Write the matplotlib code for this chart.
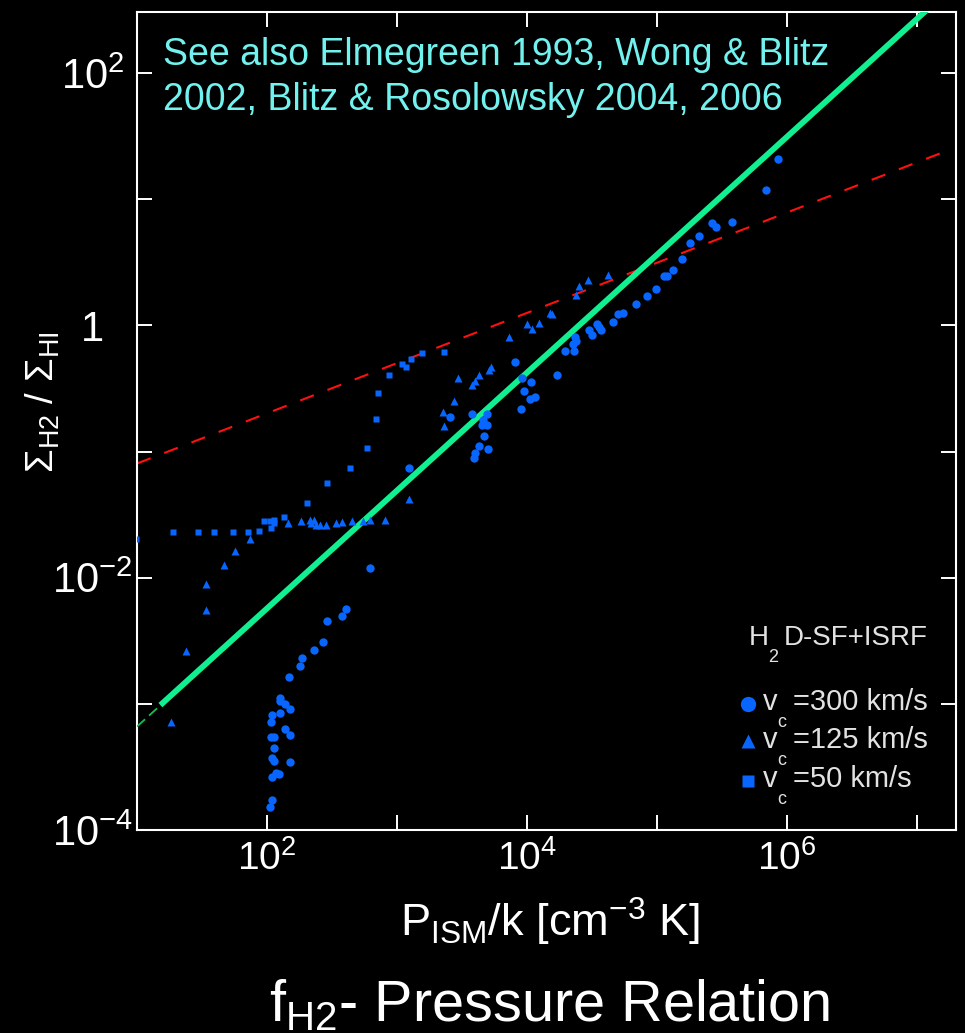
import numpy as np
import matplotlib.pyplot as plt
from matplotlib.lines import Line2D
from matplotlib.ticker import FixedLocator, FixedFormatter, NullLocator

plt.rcParams['font.family'] = ['Liberation Sans', 'DejaVu Sans']
plt.rcParams['mathtext.fontset'] = 'custom'
plt.rcParams['mathtext.rm'] = 'Liberation Sans'
plt.rcParams['mathtext.it'] = 'Liberation Sans'
plt.rcParams['mathtext.bf'] = 'Liberation Sans:bold'

# log10(P/k), log10(Sigma_H2/Sigma_HI)
circ_logP = [2.02, 2.04, 2.04, 2.07, 2.09, 2.04, 2.05, 2.18, 2.05, 2.03,
             2.05, 2.18, 2.14, 2.03, 2.04, 2.10, 2.18, 2.14, 2.10, 2.10,
             2.17, 2.25, 2.27, 2.36, 2.43, 2.46, 2.58, 2.61, 2.79, 3.09,
             3.41, 3.58, 3.69, 3.66, 3.65, 3.69, 3.67, 3.63, 3.70, 3.60,
             3.59, 3.91, 3.96, 4.03, 3.98, 4.06, 4.02, 3.95, 4.23, 4.29,
             4.36, 4.35, 4.38, 4.37, 4.48, 4.50, 4.54, 4.55, 4.57, 4.66,
             4.70, 4.74, 4.84, 4.92, 4.99, 5.05, 5.08, 5.12, 5.19, 5.25,
             5.32, 5.42, 5.45, 5.58, 5.84, 5.93]
circ_logR = [-3.82, -3.76, -3.58, -3.55, -3.56, -3.43, -3.45, -3.46, -3.35, -3.26,
             -3.26, -3.25, -3.20, -3.14, -3.09, -3.07, -3.04, -3.00, -2.98, -2.95,
             -2.79, -2.70, -2.64, -2.57, -2.51, -2.34, -2.30, -2.25, -1.92, -1.13,
             -0.73, -0.70, -0.70, -0.75, -0.79, -0.79, -0.88, -0.96, -0.98, -1.01,
             -1.05, -0.29, -0.42, -0.45, -0.52, -0.57, -0.58, -0.66, -0.39, -0.20,
             -0.20, -0.15, -0.12, -0.09, -0.04, -0.08, 0.01, -0.01, -0.04, 0.03,
             0.09, 0.10, 0.17, 0.23, 0.29, 0.39, 0.39, 0.44, 0.53, 0.65,
             0.71, 0.81, 0.78, 0.82, 1.07, 1.32]

tri_logP = [1.26, 1.38, 1.53, 1.53, 1.67, 1.75, 1.87, 2.16, 2.26, 2.33,
            2.36, 2.34, 2.38, 2.41, 2.45, 2.53, 2.58, 2.65, 2.74, 2.79,
            2.91, 3.09, 3.36, 3.35, 3.44, 3.47, 3.58, 3.60, 3.63, 3.71,
            3.72, 3.86, 4.00, 4.04, 4.09, 4.18, 4.19, 4.38, 4.40, 4.47,
            4.62]
tri_logR = [-3.14, -2.58, -2.26, -2.05, -1.90, -1.79, -1.69, -1.57, -1.55, -1.54,
            -1.54, -1.57, -1.58, -1.58, -1.58, -1.57, -1.56, -1.55, -1.55, -1.54,
            -1.54, -1.38, -0.80, -0.69, -0.60, -0.42, -0.47, -0.44, -0.39, -0.35,
            -0.33, -0.09, 0.01, -0.03, 0.02, 0.10, 0.09, 0.24, 0.31, 0.36,
            0.40]

sq_logP = [0.99, 1.28, 1.47, 1.59, 1.74, 1.85, 1.94, 1.98, 2.02, 2.05,
           2.03, 2.05, 2.13, 2.31, 2.46, 2.64, 2.77, 2.84, 2.85, 2.94,
           3.04, 3.07, 3.11, 3.19, 3.36]
sq_logR = [-1.69, -1.64, -1.64, -1.64, -1.64, -1.64, -1.63, -1.55, -1.55, -1.54,
           -1.61, -1.57, -1.52, -1.41, -1.25, -1.13, -0.97, -0.74, -0.54, -0.39,
           -0.31, -0.33, -0.27, -0.22, -0.21]

# fit lines, end points (log10)
fit_logP = [1.18, 7.30]
fit_logR = [-3.01, 2.71]
fitthin_logP = [1.00, 7.30]
fitthin_logR = [-3.18, 2.71]
ref_logP = [1.00, 7.20]
ref_logR = [-1.095, 1.372]

xtick_vals = [1e1, 1e2, 1e3, 1e4, 1e5, 1e6, 1e7]
xtick_labels = ['', r'$10^{2}$', '', r'$10^{4}$', '', r'$10^{6}$', '']
ytick_vals = [1e-4, 1e-3, 1e-2, 1e-1, 1e0, 1e1, 1e2]
ytick_labels = [r'$10^{-4}$', '', r'$10^{-2}$', '', '1', '', r'$10^{2}$']

blue = '#0866ff'
W, H = 965, 1033

fig = plt.figure(figsize=(W / 100, H / 100), dpi=100, facecolor='black')
ax = fig.add_axes([137 / W, 1 - 830 / H, 819 / W, 818 / H])
ax.set_facecolor('black')
ax.set_xscale('log')
ax.set_yscale('log')
ax.set_xlim(10 ** 1.0, 10 ** 7.3)
ax.set_ylim(1e-4, 10 ** 2.484)

ax.plot(10 ** np.array(ref_logP), 10 ** np.array(ref_logR), color='#ff1010',
        lw=1.5, dashes=(7, 7), zorder=2)
ax.plot(10 ** np.array(fitthin_logP), 10 ** np.array(fitthin_logR), color='#10c050',
        lw=1.3, dashes=(6, 3), zorder=3)
ax.plot(10 ** np.array(fit_logP), 10 ** np.array(fit_logR), color='#10f090',
        lw=4.2, solid_capstyle='butt', zorder=4)

ax.plot(10 ** np.array(circ_logP), 10 ** np.array(circ_logR), 'o', color=blue,
        ms=6, mec='none', zorder=5)
ax.plot(10 ** np.array(tri_logP), 10 ** np.array(tri_logR), '^', color=blue,
        ms=5.5, mec='none', zorder=5)
ax.plot(10 ** np.array(sq_logP), 10 ** np.array(sq_logR), 's', color=blue,
        ms=4.3, mec='none', zorder=5)

ax.xaxis.set_major_locator(FixedLocator(xtick_vals))
ax.xaxis.set_major_formatter(FixedFormatter(xtick_labels))
ax.yaxis.set_major_locator(FixedLocator(ytick_vals))
ax.yaxis.set_major_formatter(FixedFormatter(ytick_labels))
ax.xaxis.set_minor_locator(NullLocator())
ax.yaxis.set_minor_locator(NullLocator())
ax.tick_params(which='major', direction='in', length=11, width=1.4,
               colors='white', top=True, right=True)
ax.tick_params(axis='x', pad=7, labelsize=28)
ax.tick_params(axis='y', pad=32, labelsize=30)
for lab in ax.get_yticklabels():
    lab.set_horizontalalignment('center')
for sp in ax.spines.values():
    sp.set_color('white')
    sp.set_linewidth(1.5)


def ftext(px, py, s, **kw):
    return fig.text(px / W, 1 - py / H, s, **kw)


cyan = '#72f2ee'
ftext(163, 65, 'See also Elmegreen 1993, Wong & Blitz', color=cyan, fontsize=27)
ftext(163, 110, '2002, Blitz & Rosolowsky 2004, 2006', color=cyan, fontsize=27)

# legend block
grey = '#e2e2e2'
ftext(749, 645, 'H', color=grey, fontsize=20)
ftext(768, 662, '2', color=grey, fontsize=13)
ftext(784, 645, 'D-SF+ISRF', color=grey, fontsize=20)

leg_markers = ['o', '^', 's']
leg_sizes = [11, 10, 8.5]
leg_labels = ['=300 km/s', '=125 km/s', '=50 km/s']
leg_marker_y = [704, 741, 781]
leg_base_y = [710, 748, 787]
for mk, ms, lab, my, by in zip(leg_markers, leg_sizes, leg_labels, leg_marker_y, leg_base_y):
    fig.add_artist(Line2D([748 / W], [1 - my / H], transform=fig.transFigure,
                          marker=mk, ms=ms, color=blue, mec='none', ls='none'))
    ftext(763, by, 'v', color=grey, fontsize=21)
    ftext(777, by + 17, 'c', color=grey, fontsize=13)
    ftext(793, by, lab, color=grey, fontsize=21)

ftext(43, 402, r'$\mathregular{Σ_{H2}\ /\ Σ_{HI}}$', color='white', fontsize=27.5,
      rotation=90, ha='center', va='center')
ftext(550, 937, r'$\mathregular{P_{ISM}/k\ [cm^{-3}\ K]}$', color='white',
      fontsize=32.5, ha='center')
ftext(550, 1021, r'$\mathregular{f_{H2}}$- Pressure Relation', color='white',
      fontsize=41.5, ha='center')

fig.savefig('out.png', dpi=100, facecolor='black')
